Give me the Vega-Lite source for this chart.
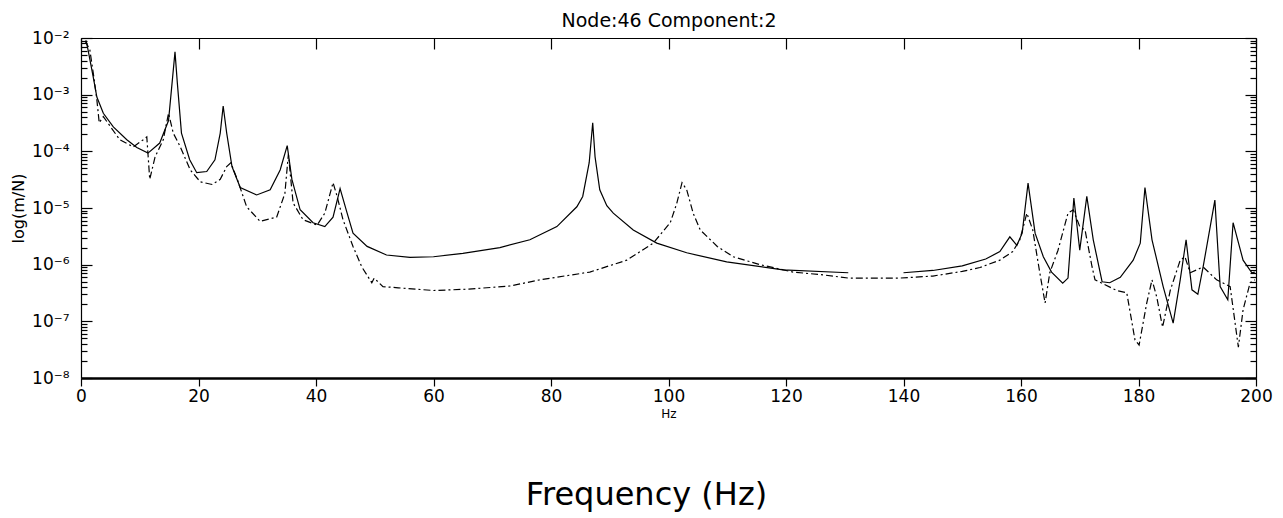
{
  "$schema": "https://vega.github.io/schema/vega-lite/v6.json",
  "width": 1175,
  "height": 340,
  "autosize": {"type": "none"},
  "padding": {"left": 81, "top": 38, "right": 27, "bottom": 140},
  "background": "white",
  "title": {"text": "Frequency (Hz)", "orient": "bottom", "frame": "group", "anchor": "middle", "offset": 86, "dx": -22, "baseline": "alphabetic", "font": "DejaVu Sans", "fontSize": 32, "fontWeight": "normal", "color": "black"},
  "config": {
    "view": {"stroke": null},
    "axis": {"labelFont": "DejaVu Sans", "labelFontSize": 17, "labelColor": "black", "tickColor": "black", "domainColor": "black", "titleColor": "black", "titleFont": "DejaVu Sans", "titleFontWeight": "normal", "grid": false, "tickWidth": 1.2, "domainWidth": 1.2}
  },
  "data": {"values": [
    {"f":0.85,"v":9.1e-3,"s":"A"},{"f":1.2,"v":6.2e-3,"s":"A"},{"f":2.1,"v":2.0e-3,"s":"A"},{"f":2.7,"v":9.1e-4,"s":"A"},{"f":3.8,"v":4.7e-4,"s":"A"},{"f":5.5,"v":2.7e-4,"s":"A"},{"f":7.8,"v":1.6e-4,"s":"A"},{"f":9.5,"v":1.17e-4,"s":"A"},{"f":11.4,"v":9.3e-5,"s":"A"},{"f":13.4,"v":1.4e-4,"s":"A"},{"f":14.9,"v":3.5e-4,"s":"A"},{"f":15.5,"v":1.6e-3,"s":"A"},{"f":16.0,"v":5.7e-3,"s":"A"},{"f":16.4,"v":1.6e-3,"s":"A"},{"f":17.1,"v":2.1e-4,"s":"A"},{"f":18.5,"v":7.1e-5,"s":"A"},{"f":19.7,"v":4.2e-5,"s":"A"},{"f":21.4,"v":4.4e-5,"s":"A"},{"f":22.8,"v":7.1e-5,"s":"A"},{"f":23.7,"v":2.1e-4,"s":"A"},{"f":24.2,"v":6.3e-4,"s":"A"},{"f":24.8,"v":2.1e-4,"s":"A"},{"f":25.7,"v":5.4e-5,"s":"A"},{"f":27.1,"v":2.3e-5,"s":"A"},{"f":29.9,"v":1.7e-5,"s":"A"},{"f":32.2,"v":2.1e-5,"s":"A"},{"f":33.9,"v":4.7e-5,"s":"A"},{"f":35.1,"v":1.26e-4,"s":"A"},{"f":35.9,"v":3.2e-5,"s":"A"},{"f":37.3,"v":9.3e-6,"s":"A"},{"f":39.5,"v":5.5e-6,"s":"A"},{"f":41.5,"v":4.7e-6,"s":"A"},{"f":42.9,"v":6.9e-6,"s":"A"},{"f":44.1,"v":2.2e-5,"s":"A"},{"f":45.3,"v":8.1e-6,"s":"A"},{"f":46.3,"v":3.6e-6,"s":"A"},{"f":48.7,"v":2.1e-6,"s":"A"},{"f":52,"v":1.48e-6,"s":"A"},{"f":56,"v":1.35e-6,"s":"A"},{"f":60,"v":1.38e-6,"s":"A"},{"f":65,"v":1.58e-6,"s":"A"},{"f":71.3,"v":2.0e-6,"s":"A"},{"f":76.4,"v":2.75e-6,"s":"A"},{"f":81,"v":4.7e-6,"s":"A"},{"f":84.4,"v":1.05e-5,"s":"A"},{"f":85.4,"v":1.6e-5,"s":"A"},{"f":86.5,"v":6.3e-5,"s":"A"},{"f":87.1,"v":3.2e-4,"s":"A"},{"f":87.5,"v":8.0e-5,"s":"A"},{"f":88.3,"v":2.1e-5,"s":"A"},{"f":89.5,"v":1.1e-5,"s":"A"},{"f":90.6,"v":8.1e-6,"s":"A"},{"f":94,"v":4.1e-6,"s":"A"},{"f":98,"v":2.4e-6,"s":"A"},{"f":103.1,"v":1.62e-6,"s":"A"},{"f":109.9,"v":1.12e-6,"s":"A"},{"f":119.5,"v":8.1e-7,"s":"A"},{"f":130.6,"v":7.2e-7,"s":"A"},{"f":135,"v":null,"s":"A"},{"f":140,"v":7.2e-7,"s":"A"},{"f":145,"v":7.9e-7,"s":"A"},{"f":150,"v":9.5e-7,"s":"A"},{"f":154,"v":1.26e-6,"s":"A"},{"f":156.4,"v":1.7e-6,"s":"A"},{"f":158.1,"v":3.1e-6,"s":"A"},{"f":159.3,"v":2.2e-6,"s":"A"},{"f":160.2,"v":3.6e-6,"s":"A"},{"f":161.2,"v":2.75e-5,"s":"A"},{"f":162.4,"v":3.6e-6,"s":"A"},{"f":163.8,"v":1.38e-6,"s":"A"},{"f":165.2,"v":7.4e-7,"s":"A"},{"f":167.1,"v":4.7e-7,"s":"A"},{"f":168,"v":5.8e-7,"s":"A"},{"f":169,"v":1.5e-5,"s":"A"},{"f":170,"v":1.8e-6,"s":"A"},{"f":171.2,"v":1.6e-5,"s":"A"},{"f":172.3,"v":2.75e-6,"s":"A"},{"f":173.8,"v":5.0e-7,"s":"A"},{"f":175.1,"v":4.8e-7,"s":"A"},{"f":176.9,"v":6.0e-7,"s":"A"},{"f":179.1,"v":1.2e-6,"s":"A"},{"f":180.3,"v":2.4e-6,"s":"A"},{"f":181.1,"v":2.3e-5,"s":"A"},{"f":182.3,"v":2.75e-6,"s":"A"},{"f":184.2,"v":4.1e-7,"s":"A"},{"f":185.9,"v":9.3e-8,"s":"A"},{"f":187.1,"v":5.4e-7,"s":"A"},{"f":188.1,"v":2.75e-6,"s":"A"},{"f":189.1,"v":3.6e-7,"s":"A"},{"f":190.1,"v":3.0e-7,"s":"A"},{"f":191,"v":9.1e-7,"s":"A"},{"f":193,"v":1.38e-5,"s":"A"},{"f":193.9,"v":4.1e-7,"s":"A"},{"f":195.2,"v":2.4e-7,"s":"A"},{"f":196.1,"v":5.5e-6,"s":"A"},{"f":197.8,"v":1.2e-6,"s":"A"},{"f":199.3,"v":7.2e-7,"s":"A"},{"f":199.8,"v":7.4e-7,"s":"A"},
    {"f":0.7,"v":8.9e-3,"s":"B"},{"f":1.5,"v":6.2e-3,"s":"B"},{"f":2.2,"v":2.0e-3,"s":"B"},{"f":2.7,"v":8.1e-4,"s":"B"},{"f":3.1,"v":3.2e-4,"s":"B"},{"f":3.8,"v":4.1e-4,"s":"B"},{"f":6.6,"v":1.6e-4,"s":"B"},{"f":8.9,"v":1.2e-4,"s":"B"},{"f":10.6,"v":1.6e-4,"s":"B"},{"f":11.2,"v":1.8e-4,"s":"B"},{"f":11.7,"v":3.2e-5,"s":"B"},{"f":12.6,"v":7.9e-5,"s":"B"},{"f":14.0,"v":1.6e-4,"s":"B"},{"f":14.9,"v":4.7e-4,"s":"B"},{"f":15.7,"v":2.1e-4,"s":"B"},{"f":16.9,"v":1.2e-4,"s":"B"},{"f":18.6,"v":4.7e-5,"s":"B"},{"f":20.3,"v":2.9e-5,"s":"B"},{"f":22.3,"v":2.6e-5,"s":"B"},{"f":23.7,"v":3.2e-5,"s":"B"},{"f":24.8,"v":5.4e-5,"s":"B"},{"f":25.5,"v":6.3e-5,"s":"B"},{"f":26.7,"v":3.0e-5,"s":"B"},{"f":28.2,"v":1.05e-5,"s":"B"},{"f":30.5,"v":5.8e-6,"s":"B"},{"f":33.3,"v":6.9e-6,"s":"B"},{"f":34.7,"v":1.8e-5,"s":"B"},{"f":35.3,"v":8.9e-5,"s":"B"},{"f":36.1,"v":1.23e-5,"s":"B"},{"f":37.8,"v":6.2e-6,"s":"B"},{"f":40.2,"v":5.0e-6,"s":"B"},{"f":41.5,"v":8.1e-6,"s":"B"},{"f":42.9,"v":2.8e-5,"s":"B"},{"f":43.6,"v":1.6e-5,"s":"B"},{"f":44.6,"v":6.2e-6,"s":"B"},{"f":46.3,"v":2.1e-6,"s":"B"},{"f":47.8,"v":9.1e-7,"s":"B"},{"f":49.5,"v":4.8e-7,"s":"B"},{"f":49.9,"v":5.8e-7,"s":"B"},{"f":51.4,"v":4.1e-7,"s":"B"},{"f":54,"v":3.9e-7,"s":"B"},{"f":60,"v":3.5e-7,"s":"B"},{"f":66,"v":3.7e-7,"s":"B"},{"f":73,"v":4.2e-7,"s":"B"},{"f":78.1,"v":5.4e-7,"s":"B"},{"f":86.6,"v":7.4e-7,"s":"B"},{"f":92.9,"v":1.2e-6,"s":"B"},{"f":97.4,"v":2.4e-6,"s":"B"},{"f":100.3,"v":5.5e-6,"s":"B"},{"f":101.4,"v":1.2e-5,"s":"B"},{"f":102.3,"v":2.8e-5,"s":"B"},{"f":103.1,"v":2.1e-5,"s":"B"},{"f":104.2,"v":8.1e-6,"s":"B"},{"f":105.4,"v":4.1e-6,"s":"B"},{"f":108.3,"v":2.1e-6,"s":"B"},{"f":111,"v":1.38e-6,"s":"B"},{"f":115.6,"v":1.0e-6,"s":"B"},{"f":121.2,"v":7.4e-7,"s":"B"},{"f":126.3,"v":6.6e-7,"s":"B"},{"f":130.6,"v":5.8e-7,"s":"B"},{"f":139.4,"v":5.8e-7,"s":"B"},{"f":145,"v":6.3e-7,"s":"B"},{"f":150,"v":7.6e-7,"s":"B"},{"f":153,"v":8.9e-7,"s":"B"},{"f":156.4,"v":1.2e-6,"s":"B"},{"f":158.6,"v":1.7e-6,"s":"B"},{"f":159.8,"v":2.75e-6,"s":"B"},{"f":161,"v":8.1e-6,"s":"B"},{"f":162,"v":4.1e-6,"s":"B"},{"f":163.2,"v":7.2e-7,"s":"B"},{"f":164.1,"v":2.1e-7,"s":"B"},{"f":164.9,"v":7.2e-7,"s":"B"},{"f":166.3,"v":1.8e-6,"s":"B"},{"f":168,"v":8.1e-6,"s":"B"},{"f":168.9,"v":9.3e-6,"s":"B"},{"f":170,"v":4.7e-6,"s":"B"},{"f":170.9,"v":4.1e-6,"s":"B"},{"f":172.1,"v":9.1e-7,"s":"B"},{"f":172.6,"v":5.4e-7,"s":"B"},{"f":176.3,"v":3.5e-7,"s":"B"},{"f":178,"v":3.2e-7,"s":"B"},{"f":179.4,"v":4.7e-8,"s":"B"},{"f":180.1,"v":3.8e-8,"s":"B"},{"f":181.4,"v":2.1e-7,"s":"B"},{"f":182.3,"v":5.4e-7,"s":"B"},{"f":183.1,"v":2.7e-7,"s":"B"},{"f":184.1,"v":7.9e-8,"s":"B"},{"f":185.4,"v":3.5e-7,"s":"B"},{"f":187.1,"v":1.2e-6,"s":"B"},{"f":187.9,"v":1.38e-6,"s":"B"},{"f":188.8,"v":7.2e-7,"s":"B"},{"f":191,"v":9.1e-7,"s":"B"},{"f":193.3,"v":5.4e-7,"s":"B"},{"f":195.6,"v":4.1e-7,"s":"B"},{"f":197,"v":3.5e-8,"s":"B"},{"f":197.8,"v":1.6e-7,"s":"B"},{"f":199,"v":4.8e-7,"s":"B"},{"f":199.8,"v":5.4e-7,"s":"B"}
  ]},
  "layer": [
    {
      "transform": [{"filter": "datum.s == 'A'"}],
      "mark": {"type": "line", "color": "black", "strokeWidth": 1.2, "invalid": "break-paths-show-domains"},
      "encoding": {
        "x": {"field": "f", "type": "quantitative", "scale": {"domain": [0, 200], "nice": false, "zero": false},
          "axis": {"orient": "bottom", "values": [0,20,40,60,80,100,120,140,160,180,200], "tickSize": 8, "labelPadding": 2, "domainWidth": 2.5, "labelFlush": false,
            "title": "Hz", "titleFontSize": 12, "titleY": 42, "titleBaseline": "bottom"}},
        "y": {"field": "v", "type": "quantitative", "scale": {"type": "log", "domain": [1e-8, 1e-2], "nice": false},
          "axis": {"orient": "left",
            "values": [1e-8,2e-8,3e-8,4e-8,5e-8,6e-8,7e-8,8e-8,9e-8,1e-7,2e-7,3e-7,4e-7,5e-7,6e-7,7e-7,8e-7,9e-7,1e-6,2e-6,3e-6,4e-6,5e-6,6e-6,7e-6,8e-6,9e-6,1e-5,2e-5,3e-5,4e-5,5e-5,6e-5,7e-5,8e-5,9e-5,1e-4,2e-4,3e-4,4e-4,5e-4,6e-4,7e-4,8e-4,9e-4,1e-3,2e-3,3e-3,4e-3,5e-3,6e-3,7e-3,8e-3,9e-3,1e-2],
            "tickSize": {"condition": {"test": "abs(log(datum.value)/LN10 - round(log(datum.value)/LN10)) < 0.01", "value": -11}, "value": -6},
            "labelExpr": "abs(log(datum.value)/LN10 - round(log(datum.value)/LN10)) < 0.01 ? '10⁻' + ['⁰','¹','²','³','⁴','⁵','⁶','⁷','⁸','⁹'][-round(log(datum.value)/LN10)] : ''",
            "labelOverlap": false, "labelBound": false, "labelFlush": false, "labelPadding": 23,
            "title": "log(m/N)", "titleFontSize": 16, "titleX": -63, "titleY": 170, "titleBaseline": "middle", "titleAlign": "center"}}
      }
    },
    {
      "transform": [{"filter": "datum.s == 'B'"}],
      "mark": {"type": "line", "color": "black", "strokeWidth": 1.2, "strokeDash": [7, 3, 2, 3]},
      "encoding": {
        "x": {"field": "f", "type": "quantitative", "scale": {"domain": [0, 200], "nice": false, "zero": false},
          "axis": {"orient": "top", "values": [0,20,40,60,80,100,120,140,160,180,200], "tickSize": -11, "labels": false,
            "title": "Node:46 Component:2", "titleFont": "DejaVu Sans", "titleFontSize": 19, "titleY": -12, "titleBaseline": "alphabetic"}},
        "y": {"field": "v", "type": "quantitative", "scale": {"type": "log", "domain": [1e-8, 1e-2], "nice": false},
          "axis": {"orient": "right",
            "values": [1e-8,2e-8,3e-8,4e-8,5e-8,6e-8,7e-8,8e-8,9e-8,1e-7,2e-7,3e-7,4e-7,5e-7,6e-7,7e-7,8e-7,9e-7,1e-6,2e-6,3e-6,4e-6,5e-6,6e-6,7e-6,8e-6,9e-6,1e-5,2e-5,3e-5,4e-5,5e-5,6e-5,7e-5,8e-5,9e-5,1e-4,2e-4,3e-4,4e-4,5e-4,6e-4,7e-4,8e-4,9e-4,1e-3,2e-3,3e-3,4e-3,5e-3,6e-3,7e-3,8e-3,9e-3,1e-2],
            "tickSize": {"condition": {"test": "abs(log(datum.value)/LN10 - round(log(datum.value)/LN10)) < 0.01", "value": -11}, "value": -6},
            "labels": false, "title": null}}
      }
    }
  ],
  "resolve": {"axis": {"x": "independent", "y": "independent"}}
}
